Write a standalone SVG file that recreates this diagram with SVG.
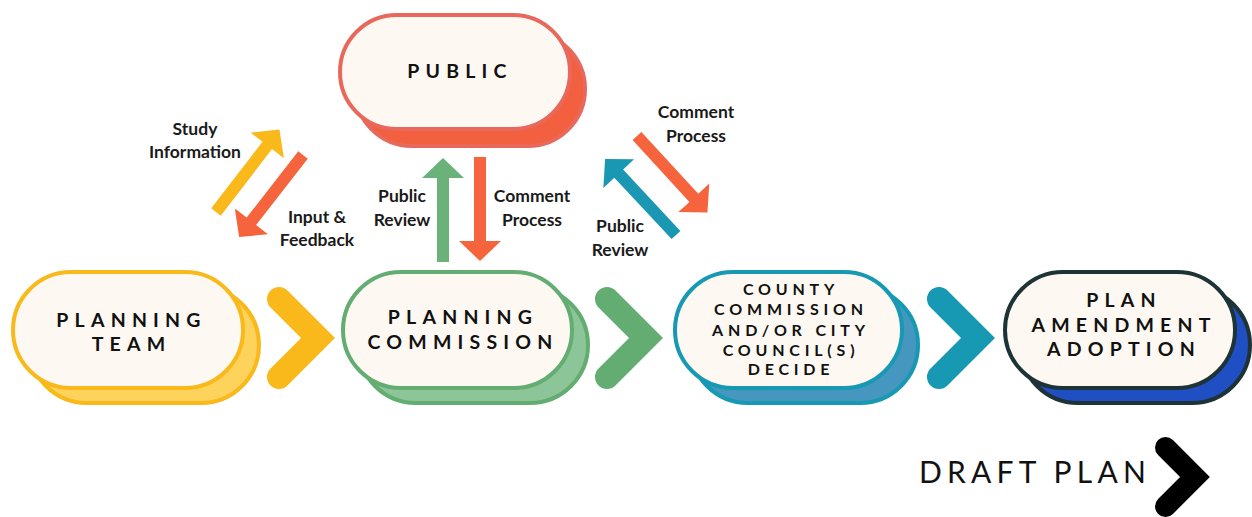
<svg xmlns="http://www.w3.org/2000/svg" width="1252" height="517" viewBox="0 0 1252 517">
<style>
.front{fill:#fdf9f2;stroke-width:4}
.back{stroke-width:4}
.nl{font-family:Lato,"Liberation Sans",sans-serif;font-weight:700;fill:#111;text-anchor:middle}
.big{font-size:19.5px;letter-spacing:6.2px}
.small{font-size:16px;letter-spacing:4.8px}
.lbl{font-family:Lato,"Liberation Sans",sans-serif;font-weight:700;font-size:17.5px;fill:#1a1a1a;text-anchor:middle}
.chev{fill:none;stroke-linecap:round;stroke-linejoin:miter;stroke-miterlimit:4}
</style>
<defs>
<path id="arr" d="M0,-6 H84 V-21 L104,0 L84,21 V6 H0 Z"/>
</defs>
<rect width="1252" height="517" fill="#ffffff"/>

<g id="connectors">
<polyline class="chev" points="279,299 318,338 279,377" stroke="#f9b91b" stroke-width="24"/>
<polyline class="chev" points="607,299 646,338 607,377" stroke="#63ad72" stroke-width="24"/>
<polyline class="chev" points="939,299 978,338 939,377" stroke="#1798b3" stroke-width="24"/>
<use href="#arr" fill="#f9b91b" transform="translate(216,212) rotate(-52.4)"/>
<use href="#arr" fill="#f5643c" transform="translate(303,155) rotate(127.9)"/>
<use href="#arr" fill="#6ab27a" transform="translate(443,262) rotate(-90)"/>
<use href="#arr" fill="#f5643c" transform="translate(480,157) rotate(90)"/>
<use href="#arr" fill="#f5643c" transform="translate(637,136) rotate(47.4)"/>
<use href="#arr" fill="#1a97b2" transform="translate(676,235) rotate(-133)"/>
<text class="lbl" x="195" y="135">Study</text>
<text class="lbl" x="195" y="158">Information</text>
<text class="lbl" x="317" y="223">Input &amp;</text>
<text class="lbl" x="317" y="246">Feedback</text>
<text class="lbl" x="402" y="202">Public</text>
<text class="lbl" x="402" y="226">Review</text>
<text class="lbl" x="532" y="202">Comment</text>
<text class="lbl" x="532" y="226">Process</text>
<text class="lbl" x="696" y="118">Comment</text>
<text class="lbl" x="696" y="142">Process</text>
<text class="lbl" x="620" y="232">Public</text>
<text class="lbl" x="620" y="256">Review</text>
</g>

<g id="public">
<rect class="back" x="355" y="32" width="230" height="114" rx="57" fill="#f2603f" stroke="#e8685c"/>
<rect class="front" x="340" y="15" width="230" height="114" rx="57" stroke="#e8685c"/>
<text class="nl big" x="460" y="78">PUBLIC</text>
</g>

<g id="planning-team">
<rect class="back" x="29" y="287" width="230" height="116" rx="58" fill="#fdd35c" stroke="#f9b91b"/>
<rect class="front" x="13" y="272" width="230" height="116" rx="58" stroke="#f9b91b"/>
<text class="nl big" x="131.5" y="327">PLANNING</text>
<text class="nl big" x="131.5" y="351">TEAM</text>
</g>

<g id="planning-commission">
<rect class="back" x="358" y="287" width="230" height="116" rx="58" fill="#8cc597" stroke="#63ad72"/>
<rect class="front" x="343" y="272" width="229" height="116" rx="58" stroke="#63ad72"/>
<text class="nl big" x="463" y="324">PLANNING</text>
<text class="nl big" x="463" y="349">COMMISSION</text>
</g>

<g id="county-commission">
<rect class="back" x="690" y="287" width="228" height="116" rx="58" fill="#4597c0" stroke="#1798b3"/>
<rect class="front" x="675" y="272" width="227" height="116" rx="58" stroke="#1798b3"/>
<text class="nl small" x="791" y="295">COUNTY</text>
<text class="nl small" x="791" y="315">COMMISSION</text>
<text class="nl small" x="791" y="336">AND/OR CITY</text>
<text class="nl small" x="791" y="356">COUNCIL(S)</text>
<text class="nl small" x="791" y="375">DECIDE</text>
</g>

<g id="plan-adoption">
<rect class="back" x="1020" y="287" width="230" height="116" rx="58" fill="#1f4fc2" stroke="#1d3336"/>
<rect class="front" x="1005" y="272" width="230" height="116" rx="58" stroke="#1d3336"/>
<text class="nl big" x="1124" y="307">PLAN</text>
<text class="nl big" x="1124" y="332">AMENDMENT</text>
<text class="nl big" x="1124" y="356">ADOPTION</text>
</g>

<g id="draft-plan">
<text x="1035" y="483" font-family="Lato,'Liberation Sans',sans-serif" font-size="30" font-weight="400" letter-spacing="5.2" text-anchor="middle" fill="#111">DRAFT PLAN</text>
<polyline class="chev" points="1165.5,447.5 1195,477 1165.5,506.5" stroke="#000" stroke-width="21"/>
</g>
</svg>
